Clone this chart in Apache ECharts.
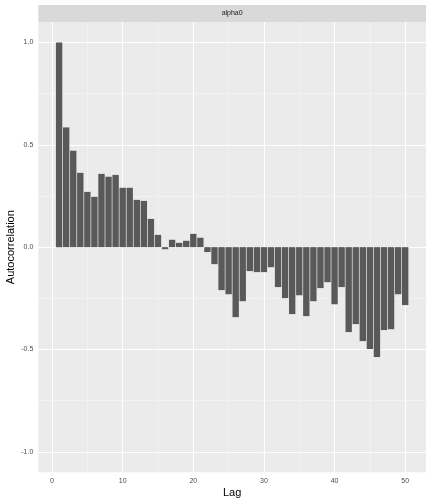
<!DOCTYPE html>
<html>
<head>
<meta charset="utf-8">
<script src="https://cdn.jsdelivr.net/npm/echarts@6/dist/echarts.min.js"></script>
<style>html,body{margin:0;padding:0;background:#fff;}#c{width:432px;height:504px;}</style>
</head>
<body>
<div id="c"></div>
<script>
const panelLabel = 'alpha0';
const lags = [1,2,3,4,5,6,7,8,9,10,11,12,13,14,15,16,17,18,19,20,21,22,23,24,25,26,27,28,29,30,31,32,33,34,35,36,37,38,39,40,41,42,43,44,45,46,47,48,49,50];
const acf = [1.0,0.585,0.471,0.363,0.270,0.246,0.358,0.344,0.353,0.290,
             0.290,0.231,0.226,0.138,0.060,-0.010,0.036,0.021,0.031,0.065,
             0.046,-0.024,-0.083,-0.210,-0.230,-0.342,-0.264,-0.117,-0.122,-0.122,
             -0.098,-0.195,-0.249,-0.327,-0.235,-0.337,-0.264,-0.200,-0.171,-0.279,
             -0.195,-0.415,-0.376,-0.459,-0.498,-0.537,-0.405,-0.401,-0.230,-0.283];
const xTicks = [0,10,20,30,40,50];
const xMinor = [5,15,25,35,45];
const yTicks = [-1.0,-0.5,0.0,0.5,1.0];
const yMinor = [-0.75,-0.25,0.25,0.75];
const barWidthUnits = 0.9;

const G = {left:38.3, right:6, top:22, bottom:31.7};
const W = 432, H = 504;
const font = '"Liberation Sans", Arial, Helvetica, sans-serif';

const chart = echarts.init(document.getElementById('c'), null, {renderer:'canvas'});
const gridLines = []
  .concat(xMinor.map(v => ({xAxis:v, lineStyle:{width:0.6, color:'#F7F7F7'}})))
  .concat(yMinor.map(v => ({yAxis:v, lineStyle:{width:0.6, color:'#F7F7F7'}})))
  .concat(xTicks.map(v => ({xAxis:v, lineStyle:{width:1.1, color:'#FFFFFF'}})))
  .concat(yTicks.map(v => ({yAxis:v, lineStyle:{width:1.1, color:'#FFFFFF'}})));

chart.setOption({
  animation:false,
  backgroundColor:'#FFFFFF',
  grid:{left:G.left, right:G.right, top:G.top, bottom:G.bottom, show:true, backgroundColor:'#EBEBEB', borderWidth:0, containLabel:false, outerBoundsMode:'none'},
  graphic:[
    {type:'rect', shape:{x:G.left, y:5, width:W-G.left-G.right, height:G.top-5}, style:{fill:'#D9D9D9'}, silent:true},
    {type:'text', x:G.left+(W-G.left-G.right)/2, y:13.5, style:{text:panelLabel, fill:'#1A1A1A', font:'7px '+font, align:'center', verticalAlign:'middle'}, silent:true}
  ],
  xAxis:{
    type:'value', min:-1.945, max:52.945,
    name:'Lag', nameLocation:'middle', nameGap:15, nameMoveOverlap:false,
    nameTextStyle:{color:'#000', fontSize:11, fontFamily:font},
    axisLine:{show:false},
    axisTick:{show:true, length:3, lineStyle:{color:'#333333', width:1}, customValues:xTicks},
    axisLabel:{show:true, color:'#4D4D4D', fontSize:7, fontFamily:font, margin:5, customValues:xTicks, formatter:v=>String(v)},
    splitLine:{show:false}, minorSplitLine:{show:false}
  },
  yAxis:{
    type:'value', min:-1.1, max:1.1,
    name:'Autocorrelation', nameLocation:'middle', nameGap:22, nameRotate:90, nameMoveOverlap:false,
    nameTextStyle:{color:'#000', fontSize:11, fontFamily:font},
    axisLine:{show:false},
    axisTick:{show:true, length:3, lineStyle:{color:'#333333', width:1}, customValues:yTicks},
    axisLabel:{show:true, color:'#4D4D4D', fontSize:7, fontFamily:font, margin:5, customValues:yTicks, formatter:v=>v.toFixed(1)},
    splitLine:{show:false}, minorSplitLine:{show:false}
  },
  series:[
    {type:'line', data:[], z:1, silent:true,
     markLine:{silent:true, z:1, symbol:['none','none'], label:{show:false}, animation:false, lineStyle:{type:'solid'}, data:gridLines}},
    {type:'custom', z:2, silent:true,
     data:lags.map((l,i)=>[l, acf[i]]),
     encode:{x:0, y:1},
     renderItem:function(params, api){
       const x = api.value(0), y = api.value(1);
       const base = api.coord([x, 0]);
       const top = api.coord([x, y]);
       const w = api.size([barWidthUnits, 0])[0];
       return {
         type:'rect',
         shape:{x:base[0]-w/2, y:Math.min(base[1], top[1]), width:w, height:Math.abs(base[1]-top[1])},
         style:{fill:'#595959'}
       };
     }}
  ]
});
</script>
</body>
</html>
